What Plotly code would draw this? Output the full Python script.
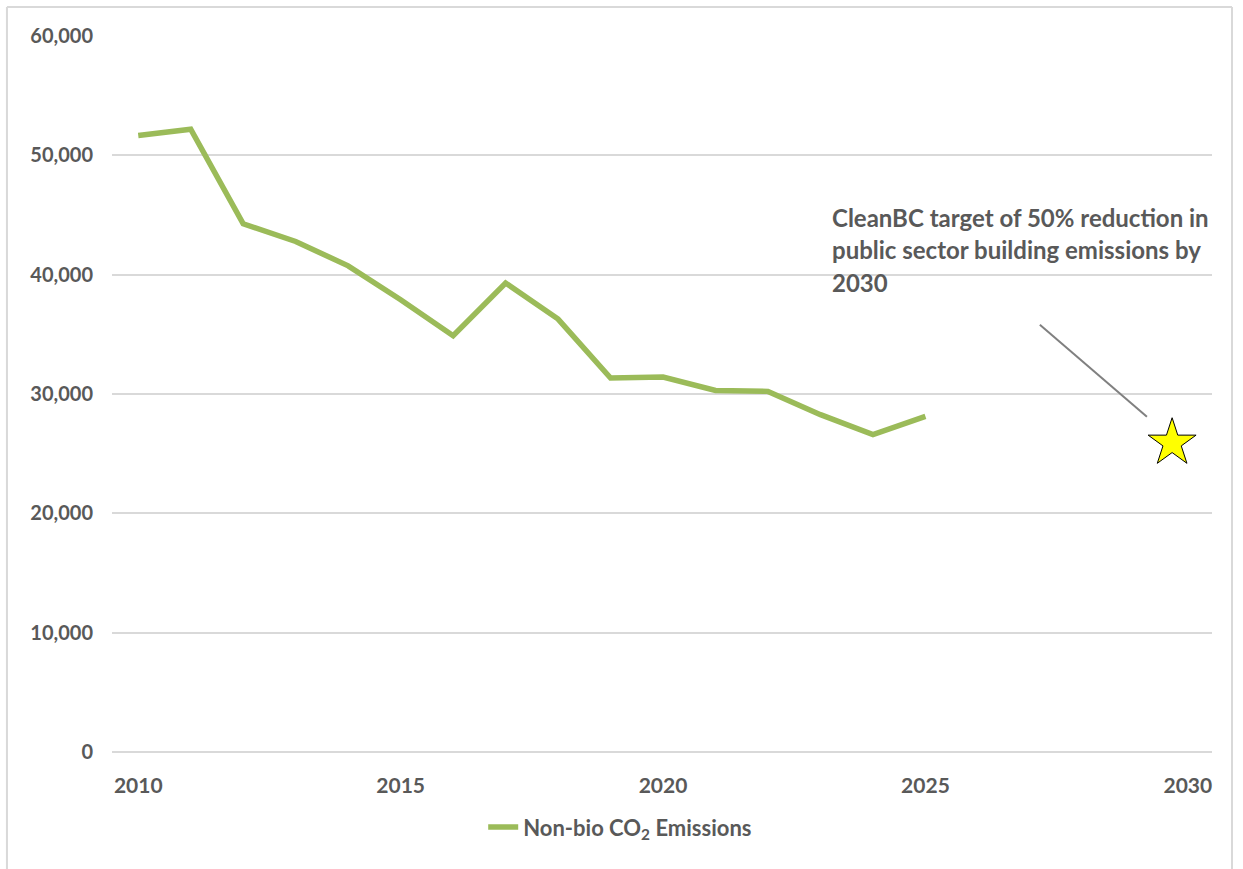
import plotly.graph_objects as go

# ---- data ----
years = [2010, 2011, 2012, 2013, 2014, 2015, 2016, 2017, 2018, 2019,
         2020, 2021, 2022, 2023, 2024, 2025]
emissions = [51660, 52190, 44260, 42780, 40740, 37900, 34880, 39300, 36280, 31340,
             31420, 30300, 30220, 28270, 26590, 28120]
series_name = "Non-bio CO<sub>2</sub> Emissions"

target_x = [2029.7]
target_y = [25900]
target_lines = ["CleanBC target of 50% reduction in",
                "public sector building emissions by",
                "2030"]
target_text_x = 2023.18
target_text_y = [44770, 42090, 39320]

x_ticks = [2010, 2015, 2020, 2025, 2030]
y_ticks = [0, 10000, 20000, 30000, 40000, 50000, 60000]
y_ticklabels = ["0", "10,000", "20,000", "30,000", "40,000", "50,000", "60,000"]

# annotation pointer (data coords)
ptr_from = (2027.18, 35800)
ptr_to = (2029.22, 28100)

FONT = "Lato"
GREY = "#595959"
GRID = "#d9d9d9"

fig = go.Figure()
fig.add_trace(go.Scatter(
    x=years, y=emissions, mode="lines", name=series_name,
    line=dict(color="#9BBB59", width=5.5),
))
fig.add_trace(go.Scatter(
    x=target_x, y=target_y, mode="markers", showlegend=False,
    marker=dict(symbol="star", size=36, color="#FFFF00",
                line=dict(color="#000000", width=1)),
))

fig.add_shape(type="line", xref="x", yref="y",
              x0=ptr_from[0], y0=ptr_from[1], x1=ptr_to[0], y1=ptr_to[1],
              line=dict(color="#808080", width=2))
for line_text, ly in zip(target_lines, target_text_y):
    fig.add_annotation(x=target_text_x, y=ly, xref="x", yref="y",
                       xanchor="left", yanchor="middle", align="left",
                       showarrow=False, text=line_text,
                       font=dict(family=FONT, size=24, color=GREY, weight="bold"))

# outer frame
for (x0, y0, x1, y1) in [(-0.0955, -0.2, -0.0955, 1.0405),
                         (-0.0955, 1.0405, 1.0182, 1.0405),
                         (1.0182, 1.0405, 1.0182, -0.2)]:
    fig.add_shape(type="line", xref="paper", yref="paper",
                  x0=x0, y0=y0, x1=x1, y1=y1,
                  line=dict(color=GRID, width=2), layer="below")

fig.update_layout(
    width=1243, height=869,
    margin=dict(l=112, r=31, t=36, b=117),
    paper_bgcolor="white", plot_bgcolor="white",
    font=dict(family=FONT, color=GREY),
    showlegend=True,
    legend=dict(orientation="h", x=0.462, xanchor="center", y=-0.105, yanchor="middle",
                font=dict(family=FONT, size=22, color=GREY, weight="bold"),
                bgcolor="rgba(0,0,0,0)"),
    xaxis=dict(range=[2009.5, 2030.46], tickvals=x_ticks, showgrid=False,
               zeroline=False, showline=False, ticks="",
               ticklabelstandoff=19,
               tickfont=dict(family=FONT, size=21, color=GREY, weight="bold")),
    yaxis=dict(range=[0, 60000], tickvals=y_ticks, ticktext=y_ticklabels,
               showgrid=True, gridcolor=GRID, gridwidth=1.5,
               zeroline=True, zerolinecolor=GRID, zerolinewidth=1.5,
               showline=False, ticks="", ticklabelstandoff=18,
               tickfont=dict(family=FONT, size=20, color=GREY, weight="bold")),
)

fig.write_html("out.html")
